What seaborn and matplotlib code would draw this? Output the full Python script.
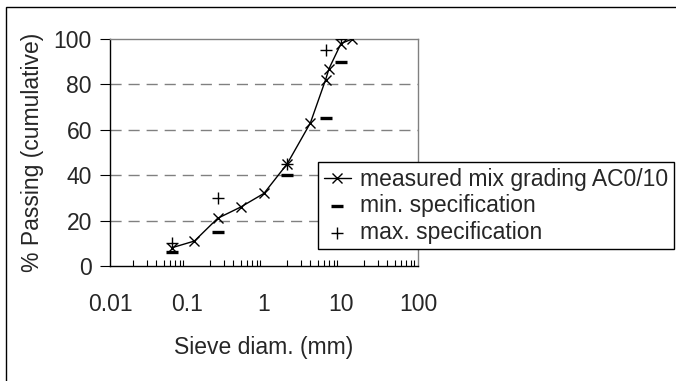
import matplotlib
matplotlib.use("Agg")
import matplotlib.pyplot as plt
import seaborn as sns
import pandas as pd
from matplotlib.ticker import FixedLocator, FixedFormatter, LogLocator, NullFormatter
from matplotlib.patches import Rectangle

# Data
sieve = [0.063, 0.125, 0.25, 0.5, 1, 2, 4, 6.3, 7, 10, 14]
passing = [8, 11, 21, 26, 32, 45, 63, 82, 87, 98, 100]
spec_sieve = [0.063, 0.25, 2, 6.3, 10]
spec_min = [6, 15, 40, 65, 90]
spec_max = [10, 30, 45, 95, 100]
xtick_vals = [0.01, 0.1, 1, 10, 100]
xtick_labels = ["0.01", "0.1", "1", "10", "100"]
ytick_vals = [0, 20, 40, 60, 80, 100]

sns.set_style("white")
plt.rcParams['font.family'] = ['Liberation Sans', 'DejaVu Sans']

FS = 16.5

fig = plt.figure(figsize=(6.76, 3.81), dpi=100)
ax = fig.add_axes([110/676, 1-266/381, 308/676, 227/381])

meas = pd.DataFrame({"x": sieve, "y": passing})
smin = pd.DataFrame({"x": spec_sieve, "y": spec_min})
smax = pd.DataFrame({"x": spec_sieve, "y": spec_max})

sns.lineplot(data=meas, x="x", y="y", ax=ax, color="black", lw=1.0,
             marker="x", markersize=7.5, markeredgewidth=1.0,
             markeredgecolor="black", markerfacecolor="black", sort=False,
             label="measured mix grading AC0/10", zorder=4)
sns.scatterplot(data=smin, x="x", y="y", ax=ax, color="black", marker="_",
                s=80, linewidth=2.4, edgecolor="black",
                label="min. specification", zorder=5)
sns.scatterplot(data=smax, x="x", y="y", ax=ax, color="black", marker="+",
                s=80, linewidth=1.0, edgecolor="black",
                label="max. specification", zorder=5)

ax.set_xscale("log")
ax.set_xlim(0.01, 100)
ax.set_ylim(0, 100)

ax.xaxis.set_major_locator(FixedLocator(xtick_vals))
ax.xaxis.set_major_formatter(FixedFormatter(xtick_labels))
ax.xaxis.set_minor_locator(LogLocator(base=10, subs=range(2, 10)))
ax.xaxis.set_minor_formatter(NullFormatter())
ax.yaxis.set_major_locator(FixedLocator(ytick_vals))

ax.tick_params(axis="x", which="major", direction="inout", length=11, width=1,
               color="black", labelsize=FS, pad=14)
ax.tick_params(axis="x", which="minor", direction="in", length=4.5, width=0.8,
               color="black", bottom=True)
ax.tick_params(axis="y", which="major", direction="out", length=7, width=0.8,
               color="black", labelsize=FS, pad=6, left=True)

for yv in [20, 40, 60, 80]:
    ax.axhline(yv, color="#808080", lw=1.0, ls=(0, (8, 5)), zorder=1)

ax.spines["left"].set_color("black")
ax.spines["bottom"].set_color("black")
ax.spines["top"].set_color("#808080")
ax.spines["right"].set_color("#808080")
for s in ax.spines.values():
    s.set_linewidth(1.0)

ax.set_xlabel("Sieve diam. (mm)", fontsize=FS, labelpad=14)
ax.set_ylabel("% Passing (cumulative)", fontsize=FS, labelpad=7)

leg = ax.legend(loc="upper left", bbox_to_anchor=(318/676, 1-162/381),
                bbox_transform=fig.transFigure, frameon=True, fancybox=False,
                edgecolor="black", framealpha=1, fontsize=FS,
                handlelength=1.2, handletextpad=0.4, borderpad=0.25,
                labelspacing=0.15, borderaxespad=0)
leg.get_frame().set_linewidth(1.0)
leg.set_zorder(10)

fig.patches.append(Rectangle((6/676, -0.1), 1.2, 1.1 - 7/381, transform=fig.transFigure,
                             fill=False, edgecolor="black", lw=1.0))

fig.savefig("out.png", dpi=100)
